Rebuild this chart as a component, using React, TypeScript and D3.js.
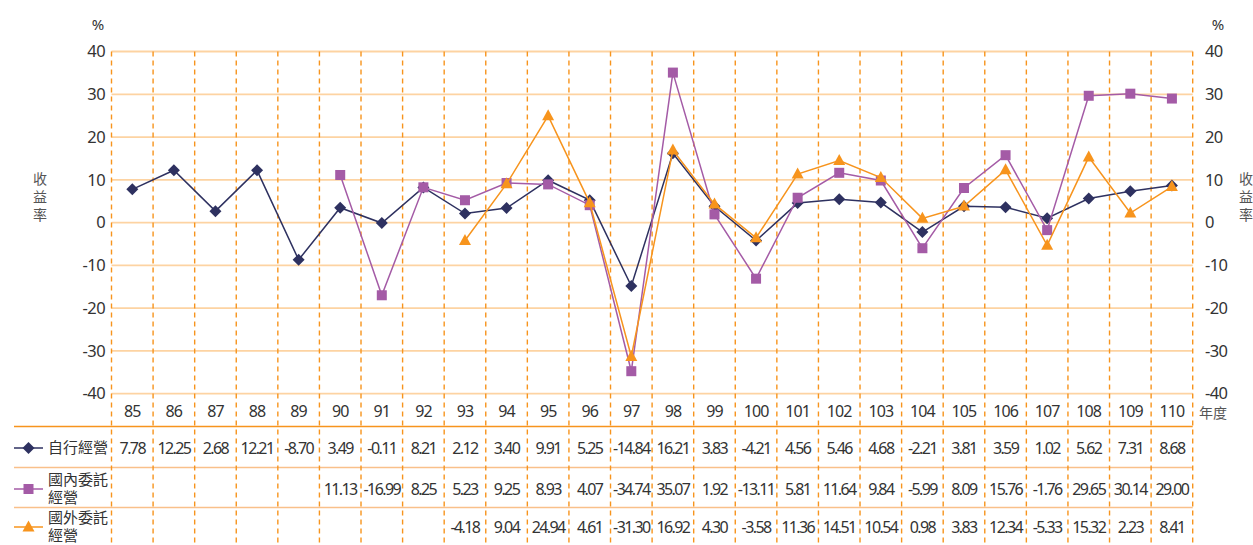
import React from 'react';
import * as d3 from 'd3';

const years = ['85', '86', '87', '88', '89', '90', '91', '92', '93', '94', '95', '96', '97', '98', '99', '100', '101', '102', '103', '104', '105', '106', '107', '108', '109', '110'];

const selfManaged = [7.78, 12.25, 2.68, 12.21, -8.7, 3.49, -0.11, 8.21, 2.12, 3.4, 9.91, 5.25, -14.84, 16.21, 3.83, -4.21, 4.56, 5.46, 4.68, -2.21, 3.81, 3.59, 1.02, 5.62, 7.31, 8.68];
const domesticDelegated = [null, null, null, null, null, 11.13, -16.99, 8.25, 5.23, 9.25, 8.93, 4.07, -34.74, 35.07, 1.92, -13.11, 5.81, 11.64, 9.84, -5.99, 8.09, 15.76, -1.76, 29.65, 30.14, 29.0];
const foreignDelegated = [null, null, null, null, null, null, null, null, -4.18, 9.04, 24.94, 4.61, -31.3, 16.92, 4.3, -3.58, 11.36, 14.51, 10.54, 0.98, 3.83, 12.34, -5.33, 15.32, 2.23, 8.41];

const yTicks = [40, 30, 20, 10, 0, -10, -20, -30, -40];

const series = [
  { name: ['自行經營'], values: selfManaged, color: '#2e3160', marker: 'diamond' },
  { name: ['國內委託', '經營'], values: domesticDelegated, color: '#a45ba6', marker: 'square' },
  { name: ['國外委託', '經營'], values: foreignDelegated, color: '#f7941d', marker: 'triangle' },
];

const FONT = '"Noto Sans", "Noto Sans CJK TC", sans-serif';
const TEXT = '#333';

const left = 111.5;
const right = 1192.7;
const top = 51.5;
const bottom = 393.7;
const rowY = [411, 448, 489, 527];
const sepY = [426.5, 467.5, 507.5];

const x = d3.scaleBand<string>().domain(years).range([left, right]);
const y = d3.scaleLinear().domain([-40, 40]).range([bottom, top]);

function Marker({ type, cx, cy, color }: { type: string; cx: number; cy: number; color: string }) {
  if (type === 'diamond') {
    const r = 6;
    return <path d={`M${cx},${cy - r}L${cx + r},${cy}L${cx},${cy + r}L${cx - r},${cy}Z`} fill={color} />;
  }
  if (type === 'square') {
    const s = 10;
    return <rect x={cx - s / 2} y={cy - s / 2} width={s} height={s} fill={color} />;
  }
  const w = 12;
  const h = 11;
  return <path d={`M${cx},${cy - h * 0.6}L${cx + w / 2},${cy + h * 0.4}L${cx - w / 2},${cy + h * 0.4}Z`} fill={color} />;
}

export default function App() {
  const cx = (i: number) => (x(years[i]) as number) + x.bandwidth() / 2;
  const line = d3
    .line<number | null>()
    .defined((d) => d != null)
    .x((_, i) => cx(i))
    .y((d) => y(d as number));

  const fmt = (v: number) => v.toFixed(2);

  return (
    <svg width={1253} height={545} style={{ position: 'absolute', left: 0, top: 0 }} fontFamily={FONT}>
      <rect width={1253} height={545} fill="#fff" />

      {/* horizontal grid */}
      {yTicks.map((t) => (
        <line key={t} x1={left} x2={right} y1={y(t)} y2={y(t)} stroke="#fdd3a2" strokeWidth={1.8} />
      ))}

      {/* table separators */}
      {sepY.map((sy, i) => (
        <line key={sy} x1={14} x2={right} y1={sy} y2={sy} stroke={i === 0 ? '#f7941d' : '#f9c08a'} strokeWidth={1.6} />
      ))}

      {/* vertical dashed lines */}
      {d3.range(years.length + 1).map((i) => {
        const vx = i < years.length ? (x(years[i]) as number) : right;
        return (
          <line key={i} x1={vx} x2={vx} y1={top} y2={545} stroke="#f7941d" strokeWidth={1.4} strokeDasharray="5,4" />
        );
      })}

      {/* left / right axis */}
      {yTicks.map((t) => (
        <text key={'l' + t} x={105} y={y(t)} dy="0.35em" textAnchor="end" fontSize={16.5} fill={TEXT} letterSpacing={-0.6}>
          {t}
        </text>
      ))}
      {yTicks.map((t) => (
        <text key={'r' + t} x={1205} y={y(t)} dy="0.35em" textAnchor="start" fontSize={16.5} fill={TEXT} letterSpacing={-0.6}>
          {t}
        </text>
      ))}
      <text x={98} y={25} dy="0.35em" textAnchor="middle" fontSize={15} fill={TEXT}>%</text>
      <text x={1218} y={25} dy="0.35em" textAnchor="middle" fontSize={15} fill={TEXT}>%</text>
      {['收', '益', '率'].map((c, i) => (
        <g key={c}>
          <text x={40} y={179 + i * 18} dy="0.35em" textAnchor="middle" fontSize={14} fill="#555">{c}</text>
          <text x={1246} y={179 + i * 18} dy="0.35em" textAnchor="middle" fontSize={14} fill="#555">{c}</text>
        </g>
      ))}
      <text x={1199} y={413} dy="0.35em" fontSize={14} fill="#555">年度</text>

      {/* series lines and markers */}
      {series.map((s) => (
        <g key={s.name.join('')}>
          <path d={line(s.values) || ''} fill="none" stroke={s.color} strokeWidth={1.5} />
          {s.values.map((v, i) =>
            v == null ? null : <Marker key={i} type={s.marker} cx={cx(i)} cy={y(v)} color={s.color} />
          )}
        </g>
      ))}

      {/* table: years */}
      {years.map((yr, i) => (
        <text key={yr} x={cx(i)} y={rowY[0]} dy="0.35em" textAnchor="middle" fontSize={16} fill={TEXT} letterSpacing={-0.9}>
          {yr}
        </text>
      ))}

      {/* table: values + legend */}
      {series.map((s, si) => {
        const ry = rowY[si + 1];
        return (
          <g key={'row' + si}>
            <line x1={14} x2={43} y1={ry} y2={ry} stroke={s.color} strokeWidth={1.5} />
            <Marker type={s.marker} cx={28.5} cy={ry} color={s.color} />
            {s.name.length === 1 ? (
              <text x={48} y={ry} dy="0.35em" fontSize={15} fill={TEXT}>{s.name[0]}</text>
            ) : (
              s.name.map((n, k) => (
                <text key={k} x={48} y={ry - 9 + k * 18} dy="0.35em" fontSize={15} fill={TEXT}>{n}</text>
              ))
            )}
            {s.values.map((v, i) =>
              v == null ? null : (
                <text key={i} x={cx(i)} y={ry} dy="0.35em" textAnchor="middle" fontSize={16} fill={TEXT} letterSpacing={-1.6}>
                  {fmt(v)}
                </text>
              )
            )}
          </g>
        );
      })}
    </svg>
  );
}
